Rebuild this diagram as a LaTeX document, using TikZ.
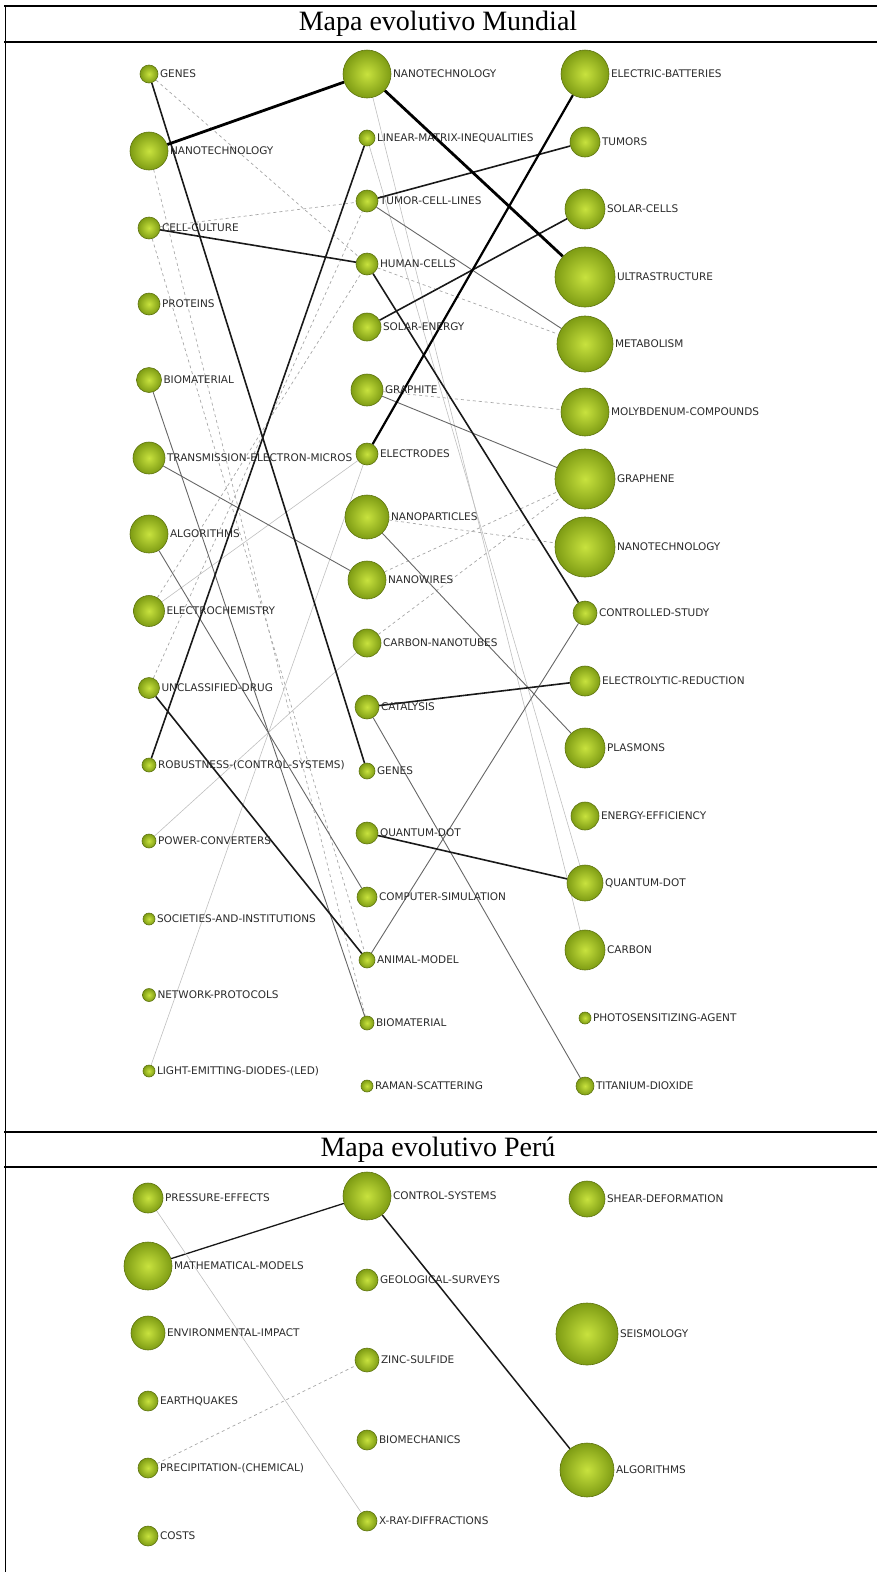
\documentclass[tikz,border=0pt]{standalone}
\usepackage{fontspec}
\setmainfont{Liberation Serif}
\newfontfamily\labfont{DejaVu Sans}
\usetikzlibrary{positioning}

\definecolor{ballin}{HTML}{C8E23E}
\definecolor{ballout}{HTML}{7E9C14}
\definecolor{ballrim}{HTML}{5E7410}
\definecolor{labtxt}{HTML}{2B2B2B}

\pgfdeclarelayer{edges}
\pgfsetlayers{edges,main}

\begin{document}
\begin{tikzpicture}[x=1pt, y=-1pt,
  theme/.style 2 args={circle, draw=ballrim, line width=0.6pt, inner sep=0pt,
    inner color=ballin, outer color=ballout, minimum size=#1,
    label={[lab]0:#2}},
  lab/.style={font=\labfont\fontsize{10.5}{12}\selectfont, text=labtxt, inner sep=0pt},
  label distance=1.5pt,
  heading/.style={font=\fontsize{28}{30}\selectfont, inner sep=0pt},
  strong/.style={line width=2.8pt, black},
  firm/.style={line width=1.6pt, black!90},
  thin/.style={line width=0.9pt, black!60},
  faint/.style={line width=0.6pt, black!25},
  dfaint/.style={line width=0.7pt, black!35, dashed}
]
  \useasboundingbox (0,0) rectangle (877,1572);

  % table frame
  \draw[line width=2pt] (4,6) -- (877,6);
  \draw[line width=1.2pt] (4,42) -- (877,42);
  \draw[line width=1.2pt] (4,1132) -- (877,1132);
  \draw[line width=1.2pt] (4,1167) -- (877,1167);
  \draw[line width=1pt] (5,5) -- (5,1572);

  \node[heading] (tMundial) at (438,24) {Mapa evolutivo Mundial};
  \node[heading] (tPeru) at (438,1150) {Mapa evolutivo Perú};

  % Mundial, first period
  \node[theme={18}{GENES}] (aGenes) at (149,74) {};
  \node[theme={38}{NANOTECHNOLOGY}] (aNano) at (149,151) {};
  \node[theme={22}{CELL-CULTURE}] (aCell) at (149,228) {};
  \node[theme={22}{PROTEINS}] (aProt) at (149,304) {};
  \node[theme={25}{BIOMATERIAL}] (aBiomat) at (149,380) {};
  \node[theme={32}{TRANSMISSION-ELECTRON-MICROS}] (aTem) at (149,458) {};
  \node[theme={38}{ALGORITHMS}] (aAlgo) at (149,534) {};
  \node[theme={31}{ELECTROCHEMISTRY}] (aElchem) at (149,611) {};
  \node[theme={21}{UNCLASSIFIED-DRUG}] (aDrug) at (149,688) {};
  \node[theme={14}{ROBUSTNESS-(CONTROL-SYSTEMS)}] (aRobust) at (149,765) {};
  \node[theme={14}{POWER-CONVERTERS}] (aPower) at (149,841) {};
  \node[theme={12}{SOCIETIES-AND-INSTITUTIONS}] (aSoc) at (149,919) {};
  \node[theme={13}{NETWORK-PROTOCOLS}] (aNet) at (149,995) {};
  \node[theme={12}{LIGHT-EMITTING-DIODES-(LED)}] (aLed) at (149,1071) {};

  % Mundial, second period
  \node[theme={48}{NANOTECHNOLOGY}] (bNano) at (367,74) {};
  \node[theme={16}{LINEAR-MATRIX-INEQUALITIES}] (bLmi) at (367,138) {};
  \node[theme={22}{TUMOR-CELL-LINES}] (bTumcl) at (367,201) {};
  \node[theme={22}{HUMAN-CELLS}] (bHuman) at (367,264) {};
  \node[theme={28}{SOLAR-ENERGY}] (bSolen) at (367,327) {};
  \node[theme={32}{GRAPHITE}] (bGraph) at (367,390) {};
  \node[theme={22}{ELECTRODES}] (bElect) at (367,454) {};
  \node[theme={44}{NANOPARTICLES}] (bNanop) at (367,517) {};
  \node[theme={38}{NANOWIRES}] (bNanow) at (367,580) {};
  \node[theme={28}{CARBON-NANOTUBES}] (bCnt) at (367,643) {};
  \node[theme={24}{CATALYSIS}] (bCatal) at (367,707) {};
  \node[theme={16}{GENES}] (bGenes) at (367,771) {};
  \node[theme={22}{QUANTUM-DOT}] (bQdot) at (367,833) {};
  \node[theme={20}{COMPUTER-SIMULATION}] (bCompsim) at (367,897) {};
  \node[theme={16}{ANIMAL-MODEL}] (bAnimal) at (367,960) {};
  \node[theme={14}{BIOMATERIAL}] (bBiomat) at (367,1023) {};
  \node[theme={12}{RAMAN-SCATTERING}] (bRaman) at (367,1086) {};

  % Mundial, third period
  \node[theme={48}{ELECTRIC-BATTERIES}] (cBatt) at (585,74) {};
  \node[theme={30}{TUMORS}] (cTumors) at (585,142) {};
  \node[theme={40}{SOLAR-CELLS}] (cSolarc) at (585,209) {};
  \node[theme={60}{ULTRASTRUCTURE}] (cUltra) at (585,277) {};
  \node[theme={56}{METABOLISM}] (cMetab) at (585,344) {};
  \node[theme={48}{MOLYBDENUM-COMPOUNDS}] (cMolyb) at (585,412) {};
  \node[theme={60}{GRAPHENE}] (cGraphene) at (585,479) {};
  \node[theme={60}{NANOTECHNOLOGY}] (cNano) at (585,547) {};
  \node[theme={24}{CONTROLLED-STUDY}] (cCtrl) at (585,613) {};
  \node[theme={30}{ELECTROLYTIC-REDUCTION}] (cElred) at (585,681) {};
  \node[theme={40}{PLASMONS}] (cPlasm) at (585,748) {};
  \node[theme={28}{ENERGY-EFFICIENCY}] (cEnergy) at (585,816) {};
  \node[theme={36}{QUANTUM-DOT}] (cQdot) at (585,883) {};
  \node[theme={40}{CARBON}] (cCarbon) at (585,950) {};
  \node[theme={12}{PHOTOSENSITIZING-AGENT}] (cPhoto) at (585,1018) {};
  \node[theme={18}{TITANIUM-DIOXIDE}] (cTio) at (585,1086) {};

  % Peru
  \node[theme={30}{PRESSURE-EFFECTS}] (dPress) at (148,1198) {};
  \node[theme={48}{MATHEMATICAL-MODELS}] (dMath) at (148,1266) {};
  \node[theme={34}{ENVIRONMENTAL-IMPACT}] (dEnv) at (148,1333) {};
  \node[theme={20}{EARTHQUAKES}] (dEarth) at (148,1401) {};
  \node[theme={20}{PRECIPITATION-(CHEMICAL)}] (dPrecip) at (148,1468) {};
  \node[theme={20}{COSTS}] (dCosts) at (148,1536) {};

  \node[theme={48}{CONTROL-SYSTEMS}] (eCtrl) at (367,1196) {};
  \node[theme={22}{GEOLOGICAL-SURVEYS}] (eGeo) at (367,1280) {};
  \node[theme={24}{ZINC-SULFIDE}] (eZinc) at (367,1360) {};
  \node[theme={20}{BIOMECHANICS}] (eBiomech) at (367,1440) {};
  \node[theme={20}{X-RAY-DIFFRACTIONS}] (eXray) at (367,1521) {};

  \node[theme={36}{SHEAR-DEFORMATION}] (fShear) at (587,1199) {};
  \node[theme={62}{SEISMOLOGY}] (fSeism) at (587,1334) {};
  \node[theme={54}{ALGORITHMS}] (fAlgo) at (587,1470) {};

  \begin{pgfonlayer}{edges}
    % faint links
    \draw[dfaint] (aGenes) -- (bHuman);
    \draw[dfaint] (aCell) -- (bTumcl);
    \draw[dfaint] (aCell) -- (bAnimal);
    \draw[dfaint] (aNano) -- (bBiomat);
    \draw[dfaint] (aDrug) -- (bTumcl);
    \draw[dfaint] (aElchem) -- (bHuman);
    \draw[faint] (aElchem) -- (bElect);
    \draw[faint] (aLed) -- (bElect);
    \draw[faint] (aPower) -- (bCnt);
    \draw[faint] (bNano) -- (cCarbon);
    \draw[faint] (bLmi) -- (cQdot);
    \draw[dfaint] (bHuman) -- (cMetab);
    \draw[dfaint] (bGraph) -- (cMolyb);
    \draw[dfaint] (bNanow) -- (cGraphene);
    \draw[dfaint] (bNanop) -- (cNano);
    \draw[dfaint] (bCnt) -- (cGraphene);
    % thin links
    \draw[thin] (aTem) -- (bNanow);
    \draw[thin] (aAlgo) -- (bCompsim);
    \draw[thin] (aBiomat) -- (bBiomat);
    \draw[thin] (bTumcl) -- (cMetab);
    \draw[thin] (bGraph) -- (cGraphene);
    \draw[thin] (bNanop) -- (cPlasm);
    \draw[thin] (bCatal) -- (cTio);
    \draw[thin] (bAnimal) -- (cCtrl);
    % firm links
    \draw[firm] (aGenes) -- (bGenes);
    \draw[firm] (aCell) -- (bHuman);
    \draw[firm] (aDrug) -- (bAnimal);
    \draw[firm] (aRobust) -- (bLmi);
    \draw[firm] (bTumcl) -- (cTumors);
    \draw[firm] (bSolen) -- (cSolarc);
    \draw[firm] (bHuman) -- (cCtrl);
    \draw[firm] (bCatal) -- (cElred);
    \draw[firm] (bQdot) -- (cQdot);
    % strong links
    \draw[strong] (aNano) -- (bNano);
    \draw[strong] (bNano) -- (cUltra);
    \draw[strong, line width=2.2pt] (bElect) -- (cBatt);
    % Peru
    \draw[firm, line width=1.3pt] (dMath) -- (eCtrl);
    \draw[firm, line width=1.5pt] (eCtrl) -- (fAlgo);
    \draw[faint] (dPress) -- (eXray);
    \draw[dfaint] (dPrecip) -- (eZinc);
  \end{pgfonlayer}
\end{tikzpicture}
\end{document}
